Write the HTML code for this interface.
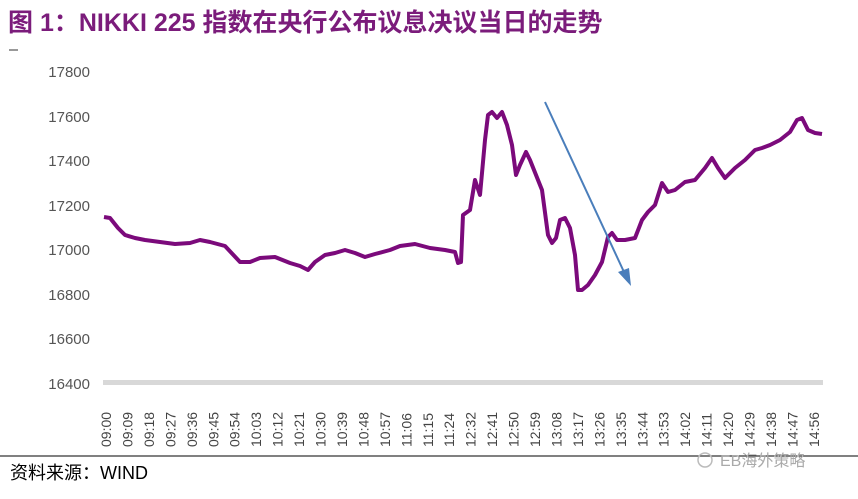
<!DOCTYPE html>
<html><head><meta charset="utf-8"><style>
body{margin:0;background:#fff;width:858px;height:494px;overflow:hidden;font-family:"Liberation Sans","Noto Sans CJK SC",sans-serif}
</style></head><body>
<svg width="858" height="494" xmlns="http://www.w3.org/2000/svg" font-family="Liberation Sans, Noto Sans CJK SC, sans-serif">
<text x="8" y="31" font-size="25" font-weight="bold" fill="#7b1c7b">图 1：NIKKI 225 指数在央行公布议息决议当日的走势</text>
<line x1="9" y1="50" x2="18" y2="50" stroke="#333" stroke-width="1"/>
<g font-size="15" fill="#555" text-anchor="end">
<text x="90" y="77">17800</text><text x="90" y="122">17600</text><text x="90" y="166">17400</text><text x="90" y="211">17200</text><text x="90" y="255">17000</text><text x="90" y="300">16800</text><text x="90" y="344">16600</text><text x="90" y="389">16400</text>
</g>
<rect x="103" y="380" width="720" height="5" fill="#d8d8d8"/>
<g font-size="14" fill="#444" id="xl"></g>
<polyline fill="none" stroke="#7b0a7b" stroke-width="4" stroke-linejoin="round" points="104,217 110,218 118,228 125,235 135,238 145,240 160,242 175,244 190,243 200,240 210,242 225,246 240,262 250,262 260,258 275,257 290,263 300,266 308,270 315,262 325,255 335,253 345,250 355,253 365,257 375,254 390,250 400,246 415,244 430,248 445,250 455,252 458,263 461,262 463,215 470,210 475,180 480,195 485,140 488,115 492,112 497,118 502,112 507,125 512,145 516,175 520,165 526,152 530,160 536,175 542,190 548,235 552,243 556,238 560,220 565,218 570,228 575,255 578,290 582,290 588,285 595,275 602,262 608,237 612,233 617,240 625,240 635,238 642,220 648,212 655,205 662,183 668,192 675,190 685,182 695,180 705,168 712,158 718,168 725,178 735,168 745,160 755,150 762,148 770,145 780,140 790,132 797,120 802,118 808,130 815,133 822,134"/>
<line x1="545" y1="102" x2="624" y2="272" stroke="#4a7ebb" stroke-width="2"/>
<polygon points="631,286 618,272 629,268" fill="#4a7ebb"/>
<line x1="0" y1="456" x2="858" y2="456" stroke="#000" stroke-width="1"/>
<text x="10" y="479" font-size="18" fill="#000">资料来源：WIND</text>
<text x="720" y="466" font-size="16" fill="#aaa">EB海外策略</text>
<circle cx="705" cy="460" r="7" fill="none" stroke="#bbb" stroke-width="1.5"/>
</svg>
<script>
var t=["09:00","09:09","09:18","09:27","09:36","09:45","09:54","10:03","10:12","10:21","10:30","10:39","10:48","10:57","11:06","11:15","11:24","12:32","12:41","12:50","12:59","13:08","13:17","13:26","13:35","13:44","13:53","14:02","14:11","14:20","14:29","14:38","14:47","14:56"];
var g=document.getElementById("xl"),s="";
for(var i=0;i<t.length;i++){var x=111+i*21.45;s+='<text transform="translate('+x+',447) rotate(-90)">'+t[i]+'</text>';}
g.innerHTML=s;
</script>
</body></html>
